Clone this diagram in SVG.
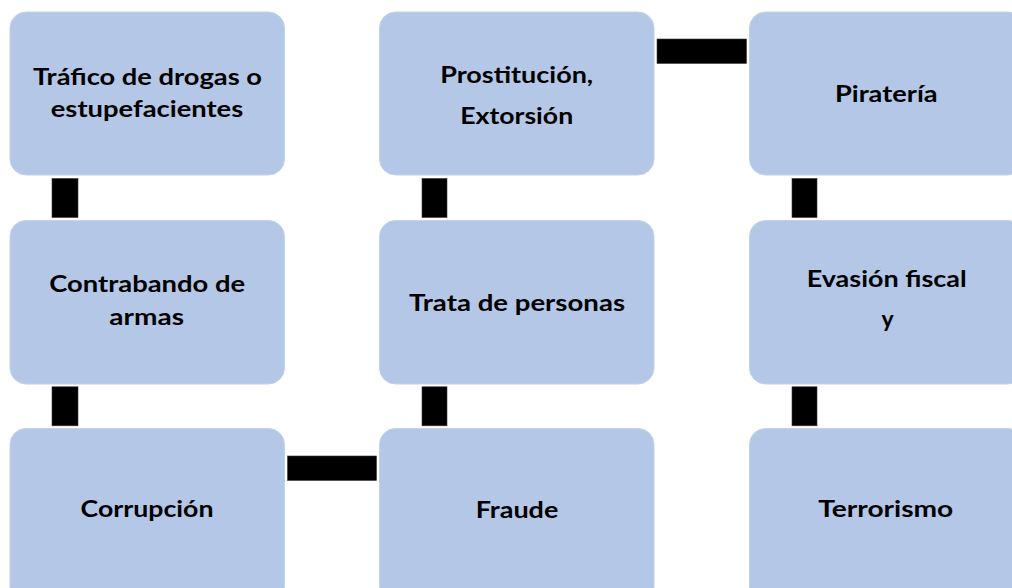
<svg xmlns="http://www.w3.org/2000/svg" width="1012" height="588" viewBox="0 0 1012 588">
<style>
.box{fill:#B4C7E7;stroke:#C3D2EC;stroke-width:1}
.lbl{font-family:Lato,"Open Sans","Liberation Sans",sans-serif;font-weight:bold;font-size:23px;fill:#000;text-anchor:middle}
.con{fill:#000;stroke:#3a3a3a;stroke-width:0.6}
</style>
<rect width="1012" height="588" fill="#fff"/>
<g id="connectors">
<rect class="con" x="52" y="178.5" width="26" height="39"/>
<rect class="con" x="52" y="386.8" width="26" height="39"/>
<rect class="con" x="422" y="178.5" width="25" height="39"/>
<rect class="con" x="422" y="386.8" width="25" height="39"/>
<rect class="con" x="792" y="178.5" width="25" height="39"/>
<rect class="con" x="792" y="386.8" width="25" height="39"/>
<rect class="con" x="287.5" y="456" width="89" height="24.5"/>
<rect class="con" x="657" y="39" width="89.5" height="24.5"/>
</g>
<g id="n1"><rect class="box" x="10" y="12" width="274.5" height="163" rx="16"/>
<text class="lbl" x="147.5" y="85" textLength="229" lengthAdjust="spacingAndGlyphs">Tráfico de drogas o</text>
<text class="lbl" x="147" y="117" textLength="192.5" lengthAdjust="spacingAndGlyphs">estupefacientes</text></g>
<g id="n2"><rect class="box" x="10" y="220.5" width="274.5" height="163.5" rx="16"/>
<text class="lbl" x="147.2" y="292.3" textLength="196" lengthAdjust="spacingAndGlyphs">Contrabando de</text>
<text class="lbl" x="146.7" y="325" textLength="74.7" lengthAdjust="spacingAndGlyphs">armas</text></g>
<g id="n3"><rect class="box" x="10" y="428.5" width="274.5" height="175" rx="16"/>
<text class="lbl" x="147" y="516.7" textLength="133" lengthAdjust="spacingAndGlyphs">Corrupción</text></g>
<g id="n4"><rect class="box" x="379.5" y="12" width="274.5" height="163" rx="16"/>
<text class="lbl" x="516.7" y="83.3" textLength="153" lengthAdjust="spacingAndGlyphs">Prostitución,</text>
<text class="lbl" x="516.7" y="124" textLength="113" lengthAdjust="spacingAndGlyphs">Extorsión</text></g>
<g id="n5"><rect class="box" x="379.5" y="220.5" width="274.5" height="163.5" rx="16"/>
<text class="lbl" x="517" y="310.7" textLength="216" lengthAdjust="spacingAndGlyphs">Trata de personas</text></g>
<g id="n6"><rect class="box" x="379.5" y="428.5" width="274.5" height="175" rx="16"/>
<text class="lbl" x="517" y="518.3" textLength="82.7" lengthAdjust="spacingAndGlyphs">Fraude</text></g>
<g id="n7"><rect class="box" x="749.5" y="12" width="274.5" height="163" rx="16"/>
<text class="lbl" x="886.3" y="102" textLength="102.7" lengthAdjust="spacingAndGlyphs">Piratería</text></g>
<g id="n8"><rect class="box" x="749.5" y="220.5" width="274.5" height="163.5" rx="16"/>
<text class="lbl" x="886.7" y="287.3" textLength="160" lengthAdjust="spacingAndGlyphs">Evasión fiscal</text>
<text class="lbl" x="887.5" y="327.3">y</text></g>
<g id="n9"><rect class="box" x="749.5" y="428.5" width="274.5" height="175" rx="16"/>
<text class="lbl" x="885.8" y="516.7" textLength="135" lengthAdjust="spacingAndGlyphs">Terrorismo</text></g>
</svg>
